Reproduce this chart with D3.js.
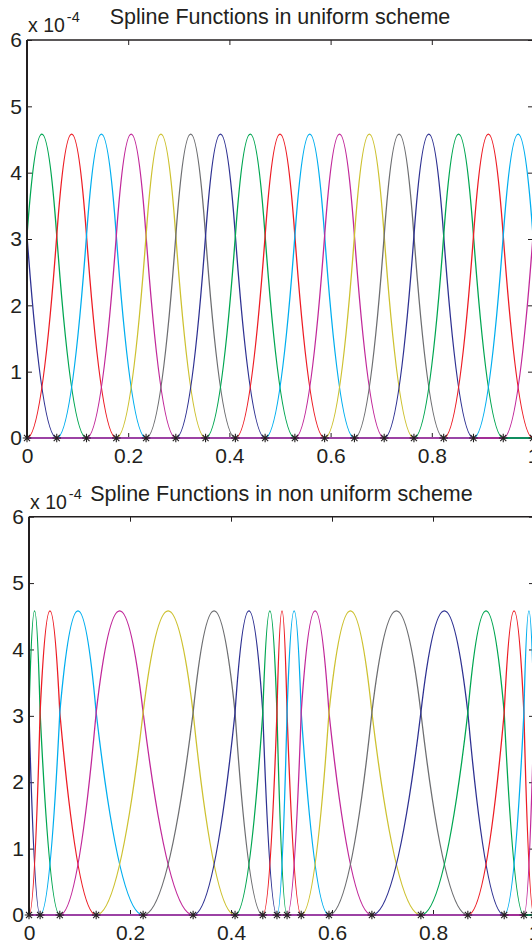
<!DOCTYPE html>
<html>
<head>
<meta charset="utf-8">
<script src="https://cdn.jsdelivr.net/npm/d3@7"></script>
<style>
  body { margin: 0; background: #fff; overflow: hidden; }
  text { font-family: "Liberation Sans", Arial, Helvetica, sans-serif; fill: #231f20; }
</style>
</head>
<body>
<svg id="chart" width="532" height="943"></svg>
<script>
// chart data
var titles = ["Spline Functions in uniform scheme", "Spline Functions in non uniform scheme"];

var uniformKnots = [0, 0.0588, 0.1176, 0.1765, 0.2353, 0.2941, 0.3529, 0.4118, 0.4706,
    0.5294, 0.5882, 0.6471, 0.7059, 0.7647, 0.8235, 0.8824, 0.9412, 1];
// knots beyond [0,1] that carry the partly visible end functions
var uniformOuterLeft = [-0.1176, -0.0588];
var uniformOuterRight = [1.0588, 1.1176];

var nonUniformKnots = [0, 0.022, 0.061, 0.133, 0.226, 0.325, 0.408, 0.463, 0.491,
    0.511, 0.539, 0.594, 0.679, 0.776, 0.869, 0.941, 0.980, 1];
var nonUniformOuterLeft = [-0.061, -0.022];
var nonUniformOuterRight = [1.020, 1.059];

var peakValue = 4.58e-4;   // top of every bump
var knotValue = 3.05e-4;   // where neighbouring bumps cross

var xTicks = [0, 0.2, 0.4, 0.6, 0.8, 1];
var yTicks = [0, 1e-4, 2e-4, 3e-4, 4e-4, 5e-4, 6e-4];
var lineColors = ["#2e3192", "#00a651", "#ed1c24", "#00aeef", "#c1289a", "#cdc130", "#6d6e71"];

var INK = "#231f20";
var FONT = 21;

var panels = [
    {title: titles[0], knots: uniformKnots, outerLeft: uniformOuterLeft, outerRight: uniformOuterRight,
        left: 27, right: 533, top: 40, bottom: 438},
    {title: titles[1], knots: nonUniformKnots, outerLeft: nonUniformOuterLeft, outerRight: nonUniformOuterRight,
        left: 29, right: 534, top: 516.7, bottom: 915}
];

var svg = d3.select("#chart");

// 8-armed asterisk marker, like MATLAB's '*'
function starPath(r) {
    var d = r * 0.7071;
    return "M0," + (-r) + "L0," + r + "M" + (-r) + ",0L" + r + ",0" +
        "M" + (-d) + "," + (-d) + "L" + d + "," + d + "M" + (-d) + "," + d + "L" + d + "," + (-d);
}

panels.forEach(function (p, pi) {
    var x = d3.scaleLinear().domain([0, 1]).range([p.left, p.right]);
    var y = d3.scaleLinear().domain([0, 6e-4]).range([p.bottom, p.top]);
    var g = svg.append("g");

    var clipId = "clip" + pi;
    svg.append("clipPath").attr("id", clipId)
        .append("rect")
        .attr("x", p.left).attr("y", p.top)
        .attr("width", p.right - p.left).attr("height", p.bottom - p.top + 2);

    // axis ticks, pointing inward
    var yl = g.append("g").attr("transform", "translate(" + p.left + ",0)")
        .call(d3.axisLeft(y).tickValues(yTicks).tickSizeInner(-5).tickSizeOuter(0).tickPadding(5)
            .tickFormat(function (d) { return Math.round(d / 1e-4); }));
    var yr = g.append("g").attr("transform", "translate(" + p.right + ",0)")
        .call(d3.axisRight(y).tickValues(yTicks).tickSizeInner(-5).tickSizeOuter(0).tickFormat(""));
    var xb = g.append("g").attr("transform", "translate(0," + p.bottom + ")")
        .call(d3.axisBottom(x).tickValues(xTicks).tickSizeInner(-5).tickSizeOuter(0).tickPadding(10)
            .tickFormat(function (d) { return d === 0 || d === 1 ? d : d3.format(".1f")(d); }));
    var xt = g.append("g").attr("transform", "translate(0," + p.top + ")")
        .call(d3.axisTop(x).tickValues(xTicks).tickSizeInner(-5).tickSizeOuter(0).tickFormat(""));

    [yl, yr, xb, xt].forEach(function (a) {
        a.select(".domain").remove();
        a.selectAll("line").attr("stroke", INK).attr("stroke-width", 1);
        a.selectAll("text").attr("font-size", FONT).attr("fill", INK)
            .style("font-family", "'Liberation Sans', Arial, sans-serif");
    });

    // box
    g.append("line").attr("x1", p.left).attr("x2", p.right).attr("y1", p.top).attr("y2", p.top)
        .attr("stroke", INK).attr("stroke-width", 1.5);
    g.append("line").attr("x1", p.left).attr("x2", p.right).attr("y1", p.bottom).attr("y2", p.bottom)
        .attr("stroke", INK).attr("stroke-width", 1.5);
    g.append("line").attr("x1", p.right).attr("x2", p.right).attr("y1", p.top).attr("y2", p.bottom)
        .attr("stroke", INK).attr("stroke-width", 1.5);

    // spline functions: one bump per knot interval, drawn over the whole axis
    var t = p.outerLeft.concat(p.knots, p.outerRight);   // t[i+2] is knot i
    var curves = g.append("g").attr("clip-path", "url(#" + clipId + ")");
    for (var j = -1; j <= p.knots.length - 1; j++) {
        var a = t[j + 1], b = t[j + 2], c = t[j + 3], e = t[j + 4];
        var path = d3.path();
        var y0 = y(0);
        path.moveTo(x(Math.min(0, a)) - 2, y0);
        path.lineTo(x(a), y0);
        path.quadraticCurveTo(x((a + b) / 2), y0, x(b), y(knotValue));
        path.quadraticCurveTo(x((b + c) / 2), y(2 * peakValue - knotValue), x(c), y(knotValue));
        path.quadraticCurveTo(x((c + e) / 2), y0, x(e), y0);
        path.lineTo(x(Math.max(1, e)) + 2, y0);
        curves.append("path")
            .attr("d", path.toString())
            .attr("fill", "none")
            .attr("stroke", lineColors[(j + 1) % lineColors.length])
            .attr("stroke-width", 1.3);
    }

    // left axis line on top of the curves
    g.append("line").attr("x1", p.left).attr("x2", p.left).attr("y1", p.top).attr("y2", p.bottom + 1)
        .attr("stroke", INK).attr("stroke-width", 2);

    // knot markers
    g.append("g").selectAll("path").data(p.knots).join("path")
        .attr("transform", function (d) { return "translate(" + x(d) + "," + y(0) + ")"; })
        .attr("d", starPath(4.3))
        .attr("fill", "none").attr("stroke", INK).attr("stroke-width", 1.1);

    // title and exponent label
    g.append("text").attr("x", (p.left + p.right) / 2).attr("y", p.top - 16)
        .attr("text-anchor", "middle").attr("font-size", 21.5).text(p.title);
    var ex = g.append("text").attr("x", p.left + 1).attr("y", p.top - 8).attr("font-size", 19.5);
    ex.append("tspan").text("x 10");
    ex.append("tspan").attr("dx", 2).attr("dy", -10).attr("font-size", 14.5).text("-4");
});
</script>
</body>
</html>
